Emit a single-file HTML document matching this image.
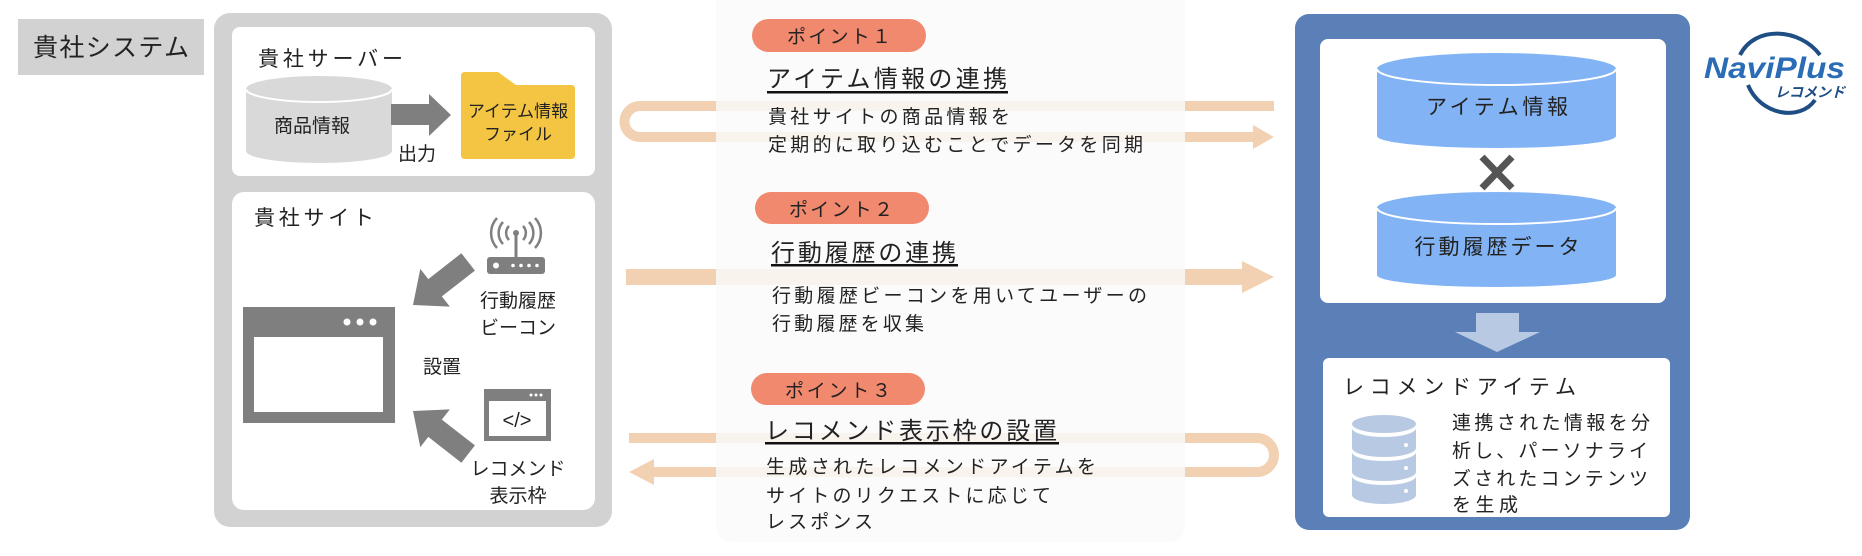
<!DOCTYPE html>
<html><head><meta charset="utf-8"><style>
html,body{margin:0;padding:0;background:#fff;width:1862px;height:556px;overflow:hidden}
svg{display:block}
text{font-family:"Liberation Sans","Noto Sans CJK JP",sans-serif;fill:#222}
</style></head><body>
<svg width="1862" height="556" viewBox="0 0 1862 556" xmlns="http://www.w3.org/2000/svg">
<!-- 貴社システム label -->
<rect x="18" y="19" width="186" height="56" fill="#d3d2d3"/>
<text x="33" y="56" font-size="25" textLength="156" lengthAdjust="spacing">貴社システム</text>

<!-- left gray panel -->
<rect x="214" y="13" width="398" height="514" rx="16" fill="#d3d2d3"/>
<rect x="232" y="27" width="363" height="149" rx="8" fill="#fff"/>
<rect x="232" y="192" width="363" height="318" rx="12" fill="#fff"/>
<text x="258" y="66" font-size="21" textLength="145" lengthAdjust="spacing">貴社サーバー</text>
<!-- cylinder -->
<path d="M246,89 A73,13 0 0 1 392,89 L392,151 A73,12 0 0 1 246,151 Z" fill="#d9d9d9"/>
<path d="M246,89 A73,13 0 0 0 392,89" fill="none" stroke="#fff" stroke-width="2"/>
<text x="312" y="132" font-size="19" text-anchor="middle" fill="#333">商品情報</text>
<!-- arrow -->
<polygon points="391,104 429,104 429,94 451,115 429,136 429,125 391,125" fill="#7f7f7f"/>
<text x="417" y="160" font-size="19" text-anchor="middle">出力</text>
<!-- folder -->
<path d="M461,76 Q461,72 465,72 L498,72 L516,85 L571,85 Q575,85 575,89 L575,155 Q575,159 571,159 L465,159 Q461,159 461,155 Z" fill="#f4c542"/>
<text x="518" y="117" font-size="17" text-anchor="middle" fill="#333">アイテム情報</text>
<text x="518" y="140" font-size="17" text-anchor="middle" fill="#333">ファイル</text>

<text x="254" y="225" font-size="21" textLength="120" lengthAdjust="spacing">貴社サイト</text>
<!-- antenna -->
<rect x="487" y="257" width="58" height="17" rx="3" fill="#7f7f7f"/>
<circle cx="496" cy="265.5" r="3" fill="#fff"/>
<circle cx="513" cy="265.5" r="1.8" fill="#fff"/><circle cx="521" cy="265.5" r="1.8" fill="#fff"/><circle cx="529" cy="265.5" r="1.8" fill="#fff"/><circle cx="537" cy="265.5" r="1.8" fill="#fff"/>
<line x1="516" y1="234" x2="516" y2="257" stroke="#7f7f7f" stroke-width="3"/>
<circle cx="516" cy="233" r="3" fill="#7f7f7f"/>
<g fill="none" stroke="#7f7f7f" stroke-width="2.5">
<path d="M509,226 A10,10 0 0 0 509,240"/><path d="M523,226 A10,10 0 0 1 523,240"/>
<path d="M503,222 A16,16 0 0 0 503,244"/><path d="M529,222 A16,16 0 0 1 529,244"/>
<path d="M497,218 A22,22 0 0 0 497,248"/><path d="M535,218 A22,22 0 0 1 535,248"/>
</g>
<text x="518" y="307" font-size="19" text-anchor="middle">行動履歴</text>
<text x="518" y="334" font-size="19" text-anchor="middle">ビーコン</text>
<!-- browser -->
<rect x="243" y="307" width="152" height="116" fill="#7f7f7f"/>
<rect x="254" y="337" width="129" height="75" fill="#fff"/>
<circle cx="347" cy="322" r="3.5" fill="#fff"/><circle cx="360" cy="322" r="3.5" fill="#fff"/><circle cx="373" cy="322" r="3.5" fill="#fff"/>
<text x="442" y="373" font-size="19" text-anchor="middle">設置</text>
<!-- code icon -->
<rect x="484" y="389" width="67" height="52" fill="#7f7f7f"/>
<rect x="489" y="401" width="57" height="35" fill="#fff"/>
<circle cx="531" cy="395" r="1.5" fill="#fff"/><circle cx="536" cy="395" r="1.5" fill="#fff"/><circle cx="541" cy="395" r="1.5" fill="#fff"/>
<text x="517" y="427" font-size="20" text-anchor="middle" fill="#7f7f7f">&lt;/&gt;</text>
<text x="518" y="475" font-size="19" text-anchor="middle">レコメンド</text>
<text x="518" y="502" font-size="19" text-anchor="middle">表示枠</text>
<!-- diagonal arrows -->
<g transform="translate(413,305) rotate(-38)" fill="#7f7f7f"><polygon points="0,0 28,-24 28,-11 70,-11 70,11 28,11 28,24"/></g>
<g transform="translate(413,411) rotate(38)" fill="#7f7f7f"><polygon points="0,0 28,-24 28,-11 70,-11 70,11 28,11 28,24"/></g>

<!-- peach arrows -->
<g fill="#f2d0b2" stroke="none">
<path d="M1274,106 H640 A15.5,15.5 0 0 0 640,137 H1255" fill="none" stroke="#f2d0b2" stroke-width="10"/>
<polygon points="1253,125 1274,137 1253,149"/>
<rect x="626" y="269" width="620" height="16"/>
<polygon points="1242,261 1274,277 1242,293"/>
<path d="M629,438 H1257 A17,17 0 0 1 1257,472 H650" fill="none" stroke="#f2d0b2" stroke-width="10"/>
<polygon points="654,459 629,472 654,485"/>
</g>

<!-- middle panel -->
<rect x="716" y="-20" width="469" height="562" rx="16" fill="#fafafa" fill-opacity="0.82"/>
<rect x="752" y="19" width="174" height="33" rx="16.5" fill="#f0896e"/>
<text x="787" y="43" font-size="19" textLength="104" lengthAdjust="spacing">ポイント１</text>
<text x="767" y="87" font-size="24" textLength="240" lengthAdjust="spacing">アイテム情報の連携</text>
<rect x="767" y="91" width="241" height="2.5" fill="#111"/>
<text x="768" y="123" font-size="19" textLength="242" lengthAdjust="spacing">貴社サイトの商品情報を</text>
<text x="768" y="151" font-size="19" textLength="375" lengthAdjust="spacing">定期的に取り込むことでデータを同期</text>

<rect x="755" y="192" width="174" height="32" rx="16" fill="#f0896e"/>
<text x="789" y="216" font-size="19" textLength="104" lengthAdjust="spacing">ポイント２</text>
<text x="771" y="261" font-size="24" textLength="185" lengthAdjust="spacing">行動履歴の連携</text>
<rect x="771" y="264" width="187" height="2.5" fill="#111"/>
<text x="772" y="302" font-size="19" textLength="375" lengthAdjust="spacing">行動履歴ビーコンを用いてユーザーの</text>
<text x="772" y="330" font-size="19" textLength="152" lengthAdjust="spacing">行動履歴を収集</text>

<rect x="751" y="373" width="174" height="32" rx="16" fill="#f0896e"/>
<text x="785" y="397" font-size="19" textLength="106" lengthAdjust="spacing">ポイント３</text>
<text x="765" y="439" font-size="24" textLength="292" lengthAdjust="spacing">レコメンド表示枠の設置</text>
<rect x="765" y="442" width="294" height="2.5" fill="#111"/>
<text x="766" y="473" font-size="19" textLength="330" lengthAdjust="spacing">生成されたレコメンドアイテムを</text>
<text x="766" y="502" font-size="19" textLength="285" lengthAdjust="spacing">サイトのリクエストに応じて</text>
<text x="766" y="528" font-size="19" textLength="107" lengthAdjust="spacing">レスポンス</text>

<!-- right blue panel -->
<rect x="1295" y="14" width="395" height="516" rx="14" fill="#5b80b7"/>
<rect x="1320" y="39" width="346" height="264" rx="8" fill="#fff"/>
<path d="M1377,69 A119.5,16 0 0 1 1616,69 L1616,136 A119.5,12 0 0 1 1377,136 Z" fill="#82b4f5"/>
<path d="M1377,69 A119.5,16 0 0 0 1616,69" fill="none" stroke="#fff" stroke-width="2"/>
<text x="1497" y="114" font-size="21" text-anchor="middle" textLength="142" lengthAdjust="spacing">アイテム情報</text>
<g stroke="#555" stroke-width="7"><line x1="1482" y1="157" x2="1512" y2="188"/><line x1="1512" y1="157" x2="1482" y2="188"/></g>
<path d="M1377,208 A119.5,16 0 0 1 1616,208 L1616,275 A119.5,12 0 0 1 1377,275 Z" fill="#82b4f5"/>
<path d="M1377,208 A119.5,16 0 0 0 1616,208" fill="none" stroke="#fff" stroke-width="2"/>
<text x="1497" y="254" font-size="21" text-anchor="middle" textLength="165" lengthAdjust="spacing">行動履歴データ</text>
<polygon points="1476,313 1519,313 1519,332 1540,332 1497,352 1455,332 1476,332" fill="#b8cae3"/>
<rect x="1323" y="358" width="347" height="159" rx="6" fill="#fff"/>
<text x="1343" y="394" font-size="21" textLength="233" lengthAdjust="spacing">レコメンドアイテム</text>
<g fill="#b8cae3">
<ellipse cx="1384" cy="424" rx="32" ry="9"/>
<path d="M1352,428 A32,9 0 0 0 1416,428 L1416,448 A32,9 0 0 1 1352,448 Z"/>
<path d="M1352,452 A32,9 0 0 0 1416,452 L1416,472 A32,9 0 0 1 1352,472 Z"/>
<path d="M1352,476 A32,9 0 0 0 1416,476 L1416,495 A32,9 0 0 1 1352,495 Z"/>
</g>
<circle cx="1406" cy="445" r="2" fill="#fff"/><circle cx="1406" cy="468" r="2" fill="#fff"/><circle cx="1406" cy="491" r="2" fill="#fff"/>
<text x="1452" y="429" font-size="19" textLength="198" lengthAdjust="spacing">連携された情報を分</text>
<text x="1452" y="457" font-size="19" textLength="196" lengthAdjust="spacing">析し、パーソナライ</text>
<text x="1452" y="485" font-size="19" textLength="196" lengthAdjust="spacing">ズされたコンテンツ</text>
<text x="1452" y="511" font-size="19" textLength="66" lengthAdjust="spacing">を生成</text>

<!-- NaviPlus logo -->
<path d="M1740,55 C1755,25 1800,28 1820,55" fill="none" stroke="#1f4e85" stroke-width="4"/>
<path d="M1748,85 C1760,115 1800,122 1815,100" fill="none" stroke="#1f4e85" stroke-width="4"/>
<text x="1704" y="78" font-size="30" font-weight="bold" font-style="italic" textLength="141" lengthAdjust="spacingAndGlyphs" style="fill:#2a6cb5">NaviPlus</text>
<text x="1775" y="97" font-size="14" font-weight="bold" font-style="italic" textLength="70" lengthAdjust="spacingAndGlyphs" style="fill:#1f4e85">レコメンド</text>
</svg>
</body></html>
